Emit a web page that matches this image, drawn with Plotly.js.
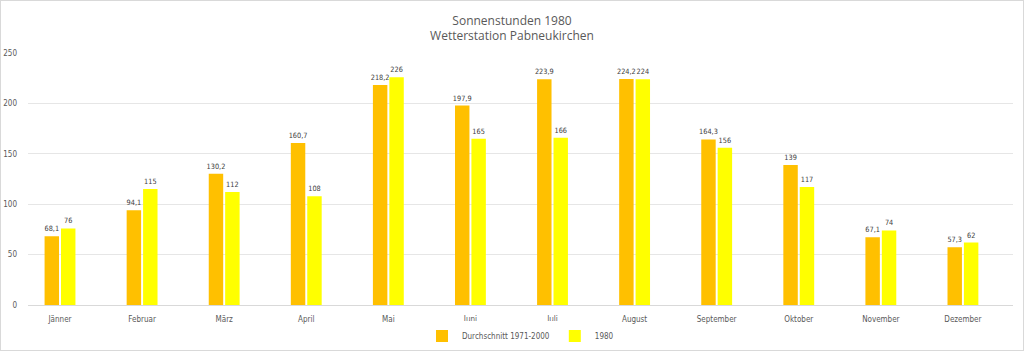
<!DOCTYPE html>
<html><head><meta charset="utf-8">
<script src="https://cdn.plot.ly/plotly-3.0.1.min.js"></script>
<style>html,body{margin:0;padding:0;background:#fff}#wrap{position:relative;width:1024px;height:351px}#chart{width:1024px;height:351px}#frame{position:absolute;left:0;top:0;width:1022px;height:349px;border:1px solid #D9D9D9;pointer-events:none}</style>
</head><body><div id="wrap"><div id="chart"></div><div id="frame"></div></div>
<script>
const months = ["Jänner","Februar","März","April","Mai","Juni","Juli","August","September","Oktober","November","Dezember"];
const avg1971_2000 = [68.1,94.1,130.2,160.7,218.2,197.9,223.9,224.2,164.3,139,67.1,57.3];
const year1980 = [76,115,112,108,226,165,166,224,156,117,74,62];
const seriesNames = ["Durchschnitt 1971-2000","1980"];
const yTicks = [0,50,100,150,200,250];

const lbl = {family:"DejaVu Sans Condensed, Open Sans, sans-serif", size:7.3, color:"#404040"};
const tf = {family:"DejaVu Sans Condensed, Open Sans, sans-serif", size:8, color:"#595959"};
const traces = [
  {type:"bar", x:months, y:avg1971_2000, name:seriesNames[0], marker:{color:"#FFC000"},
   texttemplate:"%{y}", textposition:"outside", textfont:lbl, cliponaxis:false, constraintext:"none"},
  {type:"bar", x:months, y:year1980, name:seriesNames[1], marker:{color:"#FFFF00"},
   texttemplate:"%{y}", textposition:"outside", textfont:lbl, cliponaxis:false, constraintext:"none"}
];
const layout = {
  width:1024, height:351, separators:",.",
  margin:{l:28, r:11, t:53, b:46, autoexpand:false},
  paper_bgcolor:"#fff", plot_bgcolor:"#fff",
  title:{text:"Sonnenstunden 1980<br>Wetterstation Pabneukirchen", x:0.5, xanchor:"center", yref:"container", y:0.93, yanchor:"middle",
    font:{family:"Open Sans, sans-serif", size:12, color:"#595959"}},
  barmode:"group", bargap:0.6, bargroupgap:0.12,
  xaxis:{type:"category", range:[-0.39,11.61], tickfont:tf, showline:true, linecolor:"#D9D9D9", ticks:"outside", ticklen:6, tickcolor:"rgba(0,0,0,0)", showgrid:false},
  yaxis:{range:[0,250], tickvals:yTicks, tickfont:tf, gridcolor:"#E6E6E6", zeroline:false, ticks:"", ticklabelstandoff:10},
  legend:{orientation:"h", x:0.5, xanchor:"center", yref:"container", y:0.043, yanchor:"middle", font:tf},
  showlegend:true
};
Plotly.newPlot("chart", traces, layout, {displayModeBar:false, staticPlot:true});
</script></body></html>
